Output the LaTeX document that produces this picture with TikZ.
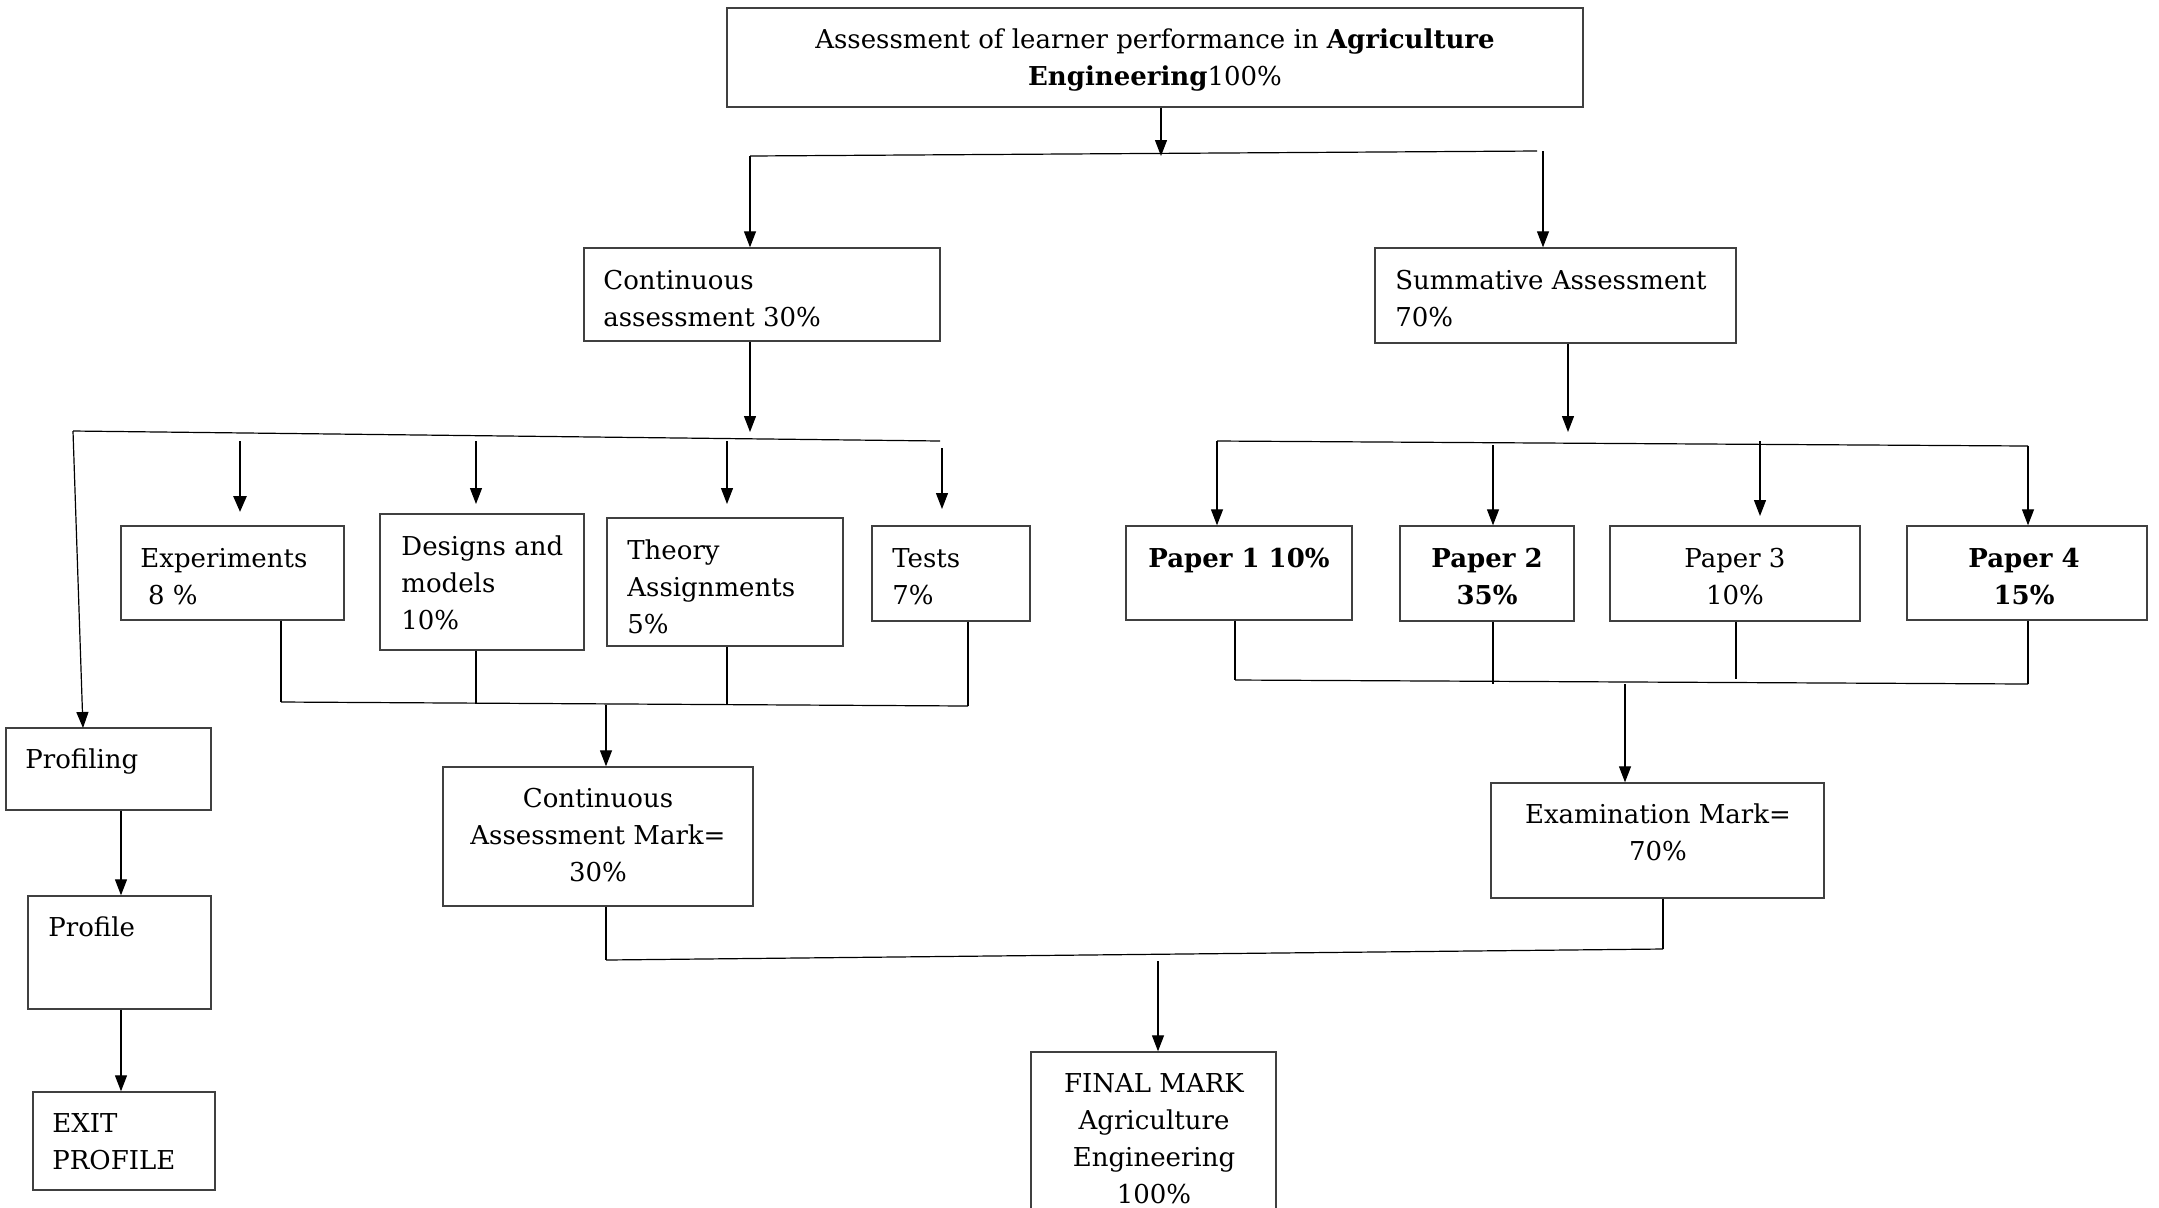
\documentclass[tikz,border=0pt]{standalone}
\usepackage{fontspec}
\setmainfont{DejaVu Serif}
\usetikzlibrary{arrows.meta}
\newcommand{\mybox}[5]{\node[box, minimum width={(#4-#2)*0.5pt}, minimum height={(#5-#3)*0.5pt}] (#1) at ({(#2+#4)/2},{(#3+#5)/2}) {};}
\begin{document}
\begin{tikzpicture}[x=0.5pt,y=-0.5pt,
  box/.style={draw=black!75, line width=0.7pt, inner sep=0pt},
  txt/.style={inner sep=0pt, font=\fontsize{13}{18.5}\selectfont},
  ln/.style={line width=0.6pt},
  arr/.style={line width=0.6pt, -{Triangle[length=8pt,width=6pt]}},
  tarr/.style={line width=1.4pt, -{Triangle[length=8pt,width=6.5pt]}}]
\useasboundingbox (0,0) rectangle (2159,1207);
\clip (0,0) rectangle (2159,1207);
% boxes
\mybox{top}{727}{8}{1583}{107}
\mybox{cont}{584}{248}{940}{341}
\mybox{summ}{1375}{248}{1736}{343}
\mybox{exp}{121}{526}{344}{620}
\mybox{des}{380}{514}{584}{650}
\mybox{theo}{607}{518}{843}{646}
\mybox{tests}{872}{526}{1030}{621}
\mybox{pa}{1126}{526}{1352}{620}
\mybox{pb}{1400}{526}{1574}{621}
\mybox{pc}{1610}{526}{1860}{621}
\mybox{pd}{1907}{526}{2147}{620}
\mybox{prof}{6}{728}{211}{810}
\mybox{profile}{28}{896}{211}{1009}
\mybox{exit}{33}{1092}{215}{1190}
\mybox{cam}{443}{767}{753}{906}
\mybox{exam}{1491}{783}{1824}{898}
\mybox{final}{1031}{1052}{1276}{1240}
% texts
\node[txt, anchor=north, align=center] (topt) at (1155,22) {\strut Assessment of learner performance in \textbf{Agriculture}\\\textbf{Engineering}100\%};
\node[txt, anchor=north west, align=left] (contt) at (603,263) {\strut Continuous\\assessment 30\%};
\node[txt, anchor=north west, align=left] (summt) at (1395,263) {\strut Summative Assessment\\70\%};
\node[txt, anchor=north west, align=left] (expt) at (140,541) {\strut Experiments\\\hspace{0.3em}8 \%};
\node[txt, anchor=north west, align=left] (dest) at (401,529) {\strut Designs and\\models\\10\%};
\node[txt, anchor=north west, align=left] (theot) at (627,533) {\strut Theory\\Assignments\\5\%};
\node[txt, anchor=north west, align=left] (testst) at (892,541) {\strut Tests\\7\%};
\node[txt, anchor=north, align=center] (pat) at (1239,541) {\strut\textbf{Paper 1 10\%}};
\node[txt, anchor=north, align=center] (pbt) at (1487,541) {\strut\textbf{Paper 2}\\\textbf{35\%}};
\node[txt, anchor=north, align=center] (pct) at (1735,541) {\strut Paper 3\\10\%};
\node[txt, anchor=north, align=center] (pdt) at (2024,541) {\strut\textbf{Paper 4}\\\textbf{15\%}};
\node[txt, anchor=north west, align=left] (proft) at (25,742) {\strut Profiling};
\node[txt, anchor=north west, align=left] (profilet) at (48,910) {\strut Profile};
\node[txt, anchor=north west, align=left] (exitt) at (52,1106) {\strut EXIT\\PROFILE};
\node[txt, anchor=north, align=center] (camt) at (598,781) {\strut Continuous\\Assessment Mark=\\30\%};
\node[txt, anchor=north, align=center] (examt) at (1658,797) {\strut Examination Mark=\\70\%};
\node[txt, anchor=north, align=center] (finalt) at (1154,1066) {\strut FINAL MARK\\Agriculture\\Engineering\\100\%};
% coordinates
\coordinate (j1) at (1161,156);
\coordinate (b1L) at (750,156);
\coordinate (b1R) at (1537,151);
\coordinate (d1) at (1543,151);
\coordinate (j2) at (750,432);
\coordinate (b2L) at (73,431);
\coordinate (b2R) at (940,441);
\coordinate (pf) at (83,728);
\coordinate (e1) at (240,441); \coordinate (e2) at (240,512);
\coordinate (f1) at (476,441); \coordinate (f2) at (476,504);
\coordinate (g1) at (727,441); \coordinate (g2) at (727,504);
\coordinate (h1) at (942,448); \coordinate (h2) at (942,509);
\coordinate (k1) at (281,702); \coordinate (k2) at (476,704);
\coordinate (k3) at (727,705); \coordinate (k4) at (968,706);
\coordinate (k5) at (606,705);
\coordinate (m1) at (606,960); \coordinate (m2) at (1663,949);
\coordinate (m3) at (1158,961);
\coordinate (r1) at (1568,432);
\coordinate (s1) at (1217,441); \coordinate (s2) at (1493,445);
\coordinate (s3) at (1760,441); \coordinate (s3b) at (1760,516);
\coordinate (s4) at (2028,446);
\coordinate (t1) at (1235,680); \coordinate (t2) at (1493,684);
\coordinate (t3) at (1736,679); \coordinate (t4) at (2028,684);
\coordinate (t5) at (1625,684);
% top level
\draw[arr] (top.south -| j1) -- (j1);
\draw[ln] (b1L) -- (b1R);
\draw[arr] (b1L) -- (cont.north -| b1L);
\draw[arr] (d1) -- (summ.north -| d1);
% continuous branch
\draw[arr] (cont.south -| j2) -- (j2);
\draw[ln] (b2L) -- (b2R);
\draw[arr] (b2L) -- (pf);
\draw[tarr] (e1) -- (e2);
\draw[arr] (f1) -- (f2);
\draw[arr] (g1) -- (g2);
\draw[arr] (h1) -- (h2);
\draw[ln] (exp.south -| k1) -- (k1);
\draw[ln] (des.south -| k2) -- (k2);
\draw[ln] (theo.south -| k3) -- (k3);
\draw[ln] (tests.south -| k4) -- (k4);
\draw[ln] (k1) -- (k4);
\draw[arr] (k5) -- (cam.north -| k5);
% profiling
\draw[arr] (prof.south -| 121,0) -- (profile.north -| 121,0);
\draw[arr] (profile.south -| 121,0) -- (exit.north -| 121,0);
% summative branch
\draw[arr] (summ.south -| r1) -- (r1);
\draw[ln] (s1) -- (s4);
\draw[arr] (s1) -- (pa.north -| s1);
\draw[arr] (s2) -- (pb.north -| s2);
\draw[arr] (s3) -- (s3b);
\draw[arr] (s4) -- (pd.north -| s4);
\draw[ln] (pa.south -| t1) -- (t1);
\draw[ln] (pb.south -| t2) -- (t2);
\draw[ln] (pc.south -| t3) -- (t3);
\draw[ln] (pd.south -| t4) -- (t4);
\draw[ln] (t1) -- (t4);
\draw[arr] (t5) -- (exam.north -| t5);
% final
\draw[ln] (cam.south -| m1) -- (m1);
\draw[ln] (exam.south -| m2) -- (m2);
\draw[ln] (m1) -- (m2);
\draw[arr] (m3) -- (final.north -| m3);
\end{tikzpicture}
\end{document}
